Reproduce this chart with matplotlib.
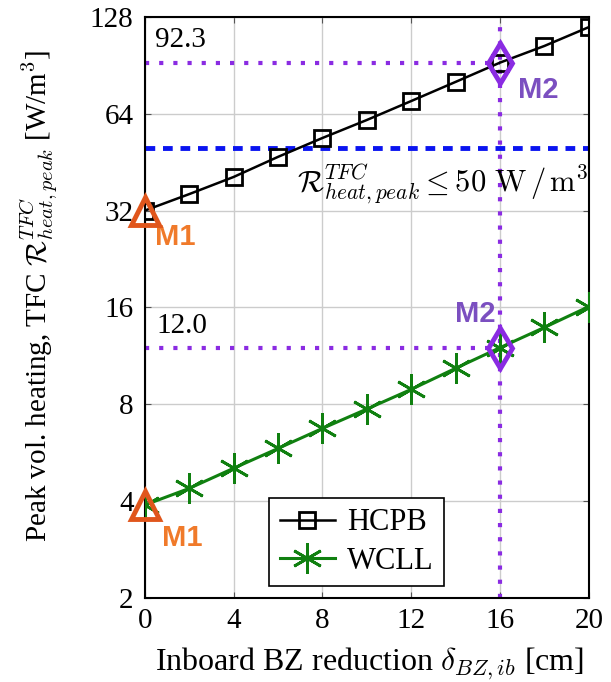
import matplotlib
matplotlib.use("Agg")
import matplotlib.pyplot as plt
import numpy as np

plt.rcParams["font.family"] = ["Liberation Serif", "DejaVu Serif"]
plt.rcParams["mathtext.fontset"] = "cm"

reduction = [0, 2, 4, 6, 8, 10, 12, 14, 16, 18, 20]
hcpb = [32.0, 36.0, 40.7, 47.0, 53.8, 61.2, 70.1, 80.4, 92.3, 104.0, 119.0]
wcll = [3.89, 4.38, 5.06, 5.83, 6.73, 7.73, 8.90, 10.35, 12.0, 13.87, 16.1]
limit = 50
m2_x = 16
m2_hcpb = 92.3
m2_wcll = 12.0

ORANGE = "#e0561c"
ORANGE_TXT = "#f07a2a"
PURPLE = "#8a2be2"
PURPLE_TXT = "#7b4fc0"
GREEN = "#108010"

fig = plt.figure(figsize=(6.11, 6.82), dpi=100)
ax = fig.add_axes([0.2368, 0.1232, 0.727, 0.852])

ax.set_yscale("log", base=2)
ax.set_xlim(0, 20)
ax.set_ylim(2, 128)

# limit + M2 guide lines
ax.axhline(limit, color="#0a14f0", linestyle=(0, (2, 1.6)), linewidth=3.5, zorder=2)
ax.plot([0, m2_x], [m2_hcpb, m2_hcpb], color=PURPLE, linestyle=(0, (1, 2.4)), linewidth=3, zorder=2)
ax.plot([0, m2_x], [m2_wcll, m2_wcll], color=PURPLE, linestyle=(0, (1, 2.4)), linewidth=3, zorder=2)
ax.plot([m2_x, m2_x], [2, 128], color=PURPLE, linestyle=(0, (1, 2.4)), linewidth=3, zorder=2)

ax.plot(reduction, hcpb, color="black", marker="s", markersize=12, markerfacecolor="none",
        markeredgewidth=2, linewidth=1.8, label="HCPB", zorder=4)
ax.plot(reduction, wcll, color=GREEN, marker=(6, 2, 0), markersize=22,
        markeredgewidth=2, linewidth=2.2, label="WCLL", zorder=4)

# M1 / M2 markers
ax.plot([0, 0], [hcpb[0], wcll[0]], linestyle="none", marker="^", markersize=20,
        markerfacecolor="none", markeredgecolor=ORANGE, markeredgewidth=3.5, zorder=6, clip_on=False)
ax.plot([m2_x, m2_x], [m2_hcpb, m2_wcll], linestyle="none", marker="d", markersize=20,
        markerfacecolor="none", markeredgecolor=PURPLE, markeredgewidth=3.5, zorder=6)

bold_sans = dict(family="Liberation Sans", fontweight="bold", fontsize=21)
ax.text(0.45, 26.5, "M1", color=ORANGE_TXT, ha="left", va="center", **bold_sans)
ax.text(0.8, 3.07, "M1", color=ORANGE_TXT, ha="left", va="center", **bold_sans)
ax.text(16.8, 76, "M2", color=PURPLE_TXT, ha="left", va="center", **bold_sans)
ax.text(15.8, 15.3, "M2", color=PURPLE_TXT, ha="right", va="center", **bold_sans)

ax.text(0.45, 99, "92.3", fontsize=21, ha="left", va="bottom")
ax.text(0.55, 12.8, "12.0", fontsize=21, ha="left", va="bottom")
ax.text(20.0, 45.5, r"$\mathcal{R}^{TFC}_{heat,peak} \leq 50\ \mathrm{W\,/\,m^3}$",
        fontsize=22, ha="right", va="top")

ax.set_xticks([0, 4, 8, 12, 16, 20])
ax.set_yticks([2, 4, 8, 16, 32, 64, 128])
ax.set_yticklabels(["2", "4", "8", "16", "32", "64", "128"])
ax.minorticks_off()
ax.tick_params(direction="in", labelsize=21, length=4, right=True, top=True, color="#555555")
ax.tick_params(axis="x", pad=7)
ax.tick_params(axis="y", pad=8)
ax.grid(color="#cccccc", linewidth=1)
for s in ax.spines.values():
    s.set_linewidth(1.5)

ax.set_xlabel(r"Inboard BZ reduction $\delta_{BZ,ib}$ [cm]", fontsize=23)
ax.set_ylabel(r"Peak vol. heating, TFC $\mathcal{R}^{TFC}_{heat,peak}$ [W/m$^3$]", fontsize=21)
ax.xaxis.set_label_coords(0.507, -0.082)
ax.yaxis.set_label_coords(-0.19, 0.52)

leg = ax.legend(loc="lower left", bbox_to_anchor=(0.28, 0.02), borderaxespad=0, fontsize=22,
                fancybox=False, edgecolor="black", framealpha=1, handlelength=1.8,
                borderpad=0.35, labelspacing=0.3, handletextpad=0.4)
leg.get_frame().set_linewidth(1.2)

fig.savefig("out.png", dpi=100)
